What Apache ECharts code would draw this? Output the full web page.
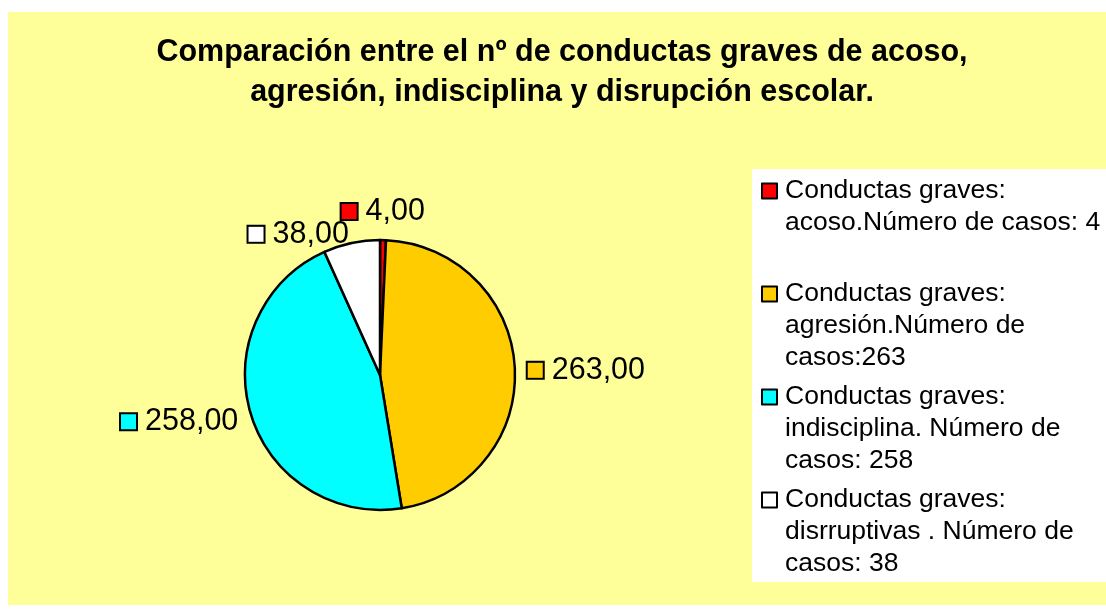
<!DOCTYPE html>
<html>
<head>
<meta charset="utf-8">
<script src="https://cdn.jsdelivr.net/npm/echarts@6/dist/echarts.min.js"></script>
<style>
  html, body { margin: 0; padding: 0; background: #fff; }
  #main { width: 1106px; height: 614px; }
</style>
</head>
<body>
<div id="main"></div>
<script>
// datos
var categories = [
  'Conductas graves:\nacoso.Número de casos: 4',
  'Conductas graves:\nagresión.Número de\ncasos:263',
  'Conductas graves:\nindisciplina. Número de\ncasos: 258',
  'Conductas graves:\ndisrruptivas . Número de\ncasos: 38'
];
var values = [4, 263, 258, 38];
var colors = ['#FF0000', '#FFCC00', '#00FFFF', '#FFFFFF'];

var titleText = 'Comparación entre el nº de conductas graves de acoso,\nagresión, indisciplina y disrupción escolar.';

var cx = 380, cy = 375, R = 135, labelGap = 13;
var total = values.reduce(function (a, b) { return a + b; }, 0);

function midAngle(i) {
  var cum = 0;
  for (var j = 0; j < i; j++) cum += values[j];
  return (cum + values[i] / 2) / total * Math.PI * 2; // horario desde arriba
}

var rich = { v: { fontSize: 30.5, padding: [0, 0, 0, 9], color: '#000' } };
colors.forEach(function (c, i) {
  rich['s' + i] = { width: 15, height: 15, backgroundColor: c, borderColor: '#000', borderWidth: 2 };
});

var myChart = echarts.init(document.getElementById('main'));
var option = {
  textStyle: { fontFamily: 'Liberation Sans, Arial, sans-serif' },
  animation: false,
  graphic: [
    { type: 'rect', z: -10, shape: { x: 8, y: 12, width: 1098, height: 593 }, style: { fill: '#FFFF99' } },
    { type: 'rect', z: -9, shape: { x: 752, y: 169, width: 354, height: 413 }, style: { fill: '#FFFFFF' } }
  ],
  title: {
    text: titleText,
    left: 562,
    top: 33,
    padding: 0,
    textAlign: 'center',
    textStyle: { fontSize: 30.5, fontWeight: 'bold', lineHeight: 40, color: '#000', fontFamily: 'Liberation Sans, Arial, sans-serif' }
  },
  legend: {
    orient: 'vertical',
    left: 761,
    top: 111,
    padding: 0,
    itemWidth: 15,
    itemHeight: 15,
    itemGap: -57,
    icon: 'rect',
    selectedMode: false,
    data: categories,
    // dos líneas vacías delante para que la primera línea quede junto al icono
    formatter: function (name) {
      var t = name.split('\n').length < 3 ? name + '\n ' : name;
      return ' \n \n' + t;
    },
    itemStyle: { borderColor: '#000', borderWidth: 2 },
    textStyle: { fontSize: 26.5, lineHeight: 32, color: '#000', padding: [0, 0, 0, 3] }
  },
  series: [{
    type: 'pie',
    center: [cx, cy],
    radius: R,
    startAngle: 90,
    clockwise: true,
    avoidLabelOverlap: false,
    data: categories.map(function (n, i) {
      return { name: n, value: values[i], itemStyle: { color: colors[i] } };
    }),
    itemStyle: { borderColor: '#000', borderWidth: 2.5 },
    label: {
      position: 'outside',
      fontSize: 30.5,
      color: '#000',
      formatter: function (p) {
        return '{s' + p.dataIndex + '|}{v|' + p.value.toFixed(2).replace('.', ',') + '}';
      },
      rich: rich
    },
    labelLine: { show: false },
    labelLayout: function (p) {
      var a = midAngle(p.dataIndex);
      var ux = Math.sin(a), uy = -Math.cos(a);
      var align = ux > 0.15 ? 'left' : (ux < -0.15 ? 'right' : 'center');
      var va = align === 'center' ? (uy < 0 ? 'bottom' : 'top') : 'middle';
      var y = cy + uy * (R + labelGap) + (va === 'middle' ? 4 : 0);
      return { x: cx + ux * (R + labelGap), y: y, align: align, verticalAlign: va };
    }
  }]
};
myChart.setOption(option);
window.onresize = function () { myChart.resize(); };
</script>
</body>
</html>
